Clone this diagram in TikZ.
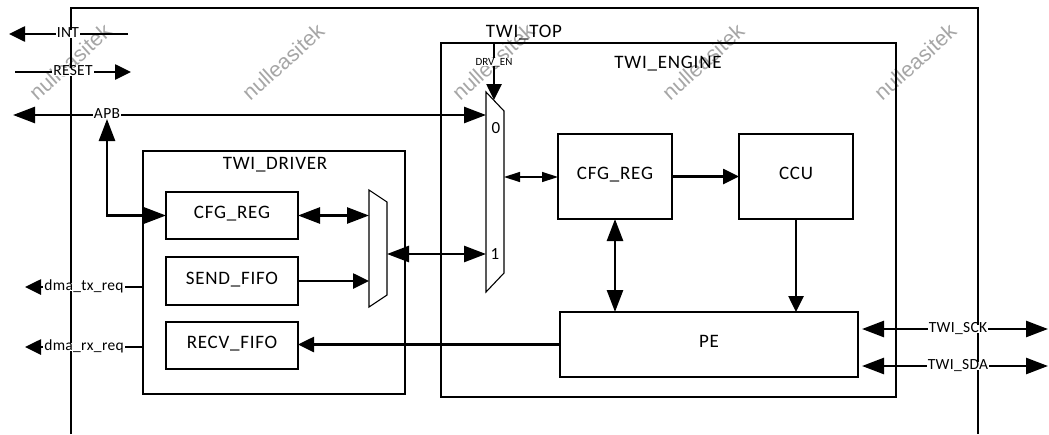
\documentclass[tikz,border=0pt]{standalone}
\usepackage{fontspec}
\setmainfont{Carlito}
\newfontfamily\wmfont{Liberation Sans}
\usetikzlibrary{arrows.meta}
\newcommand\blkfont{\fontsize{19}{22}\selectfont\addfontfeatures{LetterSpace=4}}
\newcommand\lblfont{\fontsize{15.5}{18}\selectfont\addfontfeatures{LetterSpace=2}}
\tikzset{
  box/.style={draw, line width=1.1pt, inner sep=0pt, outer sep=0pt, anchor=north west,
    font=\blkfont, text height=1.38ex, text depth=0pt},
  title/.style={font=\blkfont, anchor=base, inner sep=0pt},
  lbl/.style={fill=white, inner sep=1pt, font=\lblfont, text height=1.38ex, text depth=0pt},
  wm/.style={rotate=42, text=black!35, font=\wmfont\fontsize{21.5}{24}\selectfont},
  thk/.style={line width=2.6pt},
  thn/.style={line width=1.4pt},
  dbl/.style={arrows={Triangle[length=22pt,width=16pt]-Triangle[length=22pt,width=16pt]}},
  one/.style={arrows={-Triangle[length=16pt,width=15pt]}},
  dblthin/.style={arrows={Triangle[length=16pt,width=10pt]-Triangle[length=16pt,width=10pt]}},
}
\begin{document}
\begin{tikzpicture}[x=1pt,y=-1pt]
\useasboundingbox (0,0) rectangle (1049,434);
% watermarks
\node[wm] (wm1) at (70,62) {nulleasitek};
\node[wm] (wm2) at (283,62) {nulleasitek};
\node[wm] (wm3) at (493,62) {nulleasitek};
\node[wm] (wm4) at (703,62) {nulleasitek};
\node[wm] (wm5) at (915,62) {nulleasitek};
% outer TWI_TOP
\draw[line width=1.1pt] (71,434) |- (978,8) -- (978,434);
\node[title] (ttop) at (524,37) {TWI\_TOP};
% containers
\node[box, minimum width=455pt, minimum height=354pt] (eng) at (441,43) {};
\node[title] (teng) at (668,68) {TWI\_ENGINE};
\node[box, minimum width=262pt, minimum height=243pt] (drv) at (143,151) {};
\node[title] (tdrv) at (275,169) {TWI\_DRIVER};
% blocks
\node[box, minimum width=132pt, minimum height=47pt] (dcfg) at (166,192) {CFG\_REG};
\node[box, minimum width=132pt, minimum height=48pt] (dsend) at (166,257) {SEND\_FIFO};
\node[box, minimum width=132pt, minimum height=47pt] (drecv) at (166,322) {RECV\_FIFO};
\node[box, minimum width=114pt, minimum height=85pt] (ecfg) at (558,134) {CFG\_REG};
\node[box, minimum width=114pt, minimum height=85pt] (ccu) at (739,134) {CCU};
\node[box, minimum width=298pt, minimum height=65pt] (pe) at (560,312) {PE};
% muxes
\draw[line width=1.1pt] (369,190) -- (387,202) -- (387,295) -- (369,307) -- cycle;
\draw[line width=1.1pt] (486,92) -- (504,111) -- (504,273) -- (486,292) -- cycle;
\node[font=\fontsize{17}{20}\selectfont, inner sep=0pt, text height=1.38ex, text depth=0pt] (m0) at (496,130) {0};
\node[font=\fontsize{17}{20}\selectfont, inner sep=0pt, text height=1.38ex, text depth=0pt] (m1) at (495,256) {1};
\coordinate (dmA) at (369,216);
\coordinate (dmB) at (369,282);
\coordinate (dmO) at (387,254);
\coordinate (em0) at (486,115);
\coordinate (em1) at (486,254);
\coordinate (emO) at (504,177);
\coordinate (emS) at (494,100);
% external ports
\coordinate (intR) at (128,34);  \coordinate (intL) at (9,34);
\coordinate (rstL) at (15,72);   \coordinate (rstR) at (131,72);
\coordinate (apbL) at (13,115);  \coordinate (apbT) at (107,119);
\coordinate (drvenT) at (494,43);
\coordinate (txS) at (143,287);  \coordinate (txE) at (25,287);
\coordinate (rxS) at (143,347);  \coordinate (rxE) at (25,347);
\coordinate (sckL) at (862,329); \coordinate (sckR) at (1048,329);
\coordinate (sdaL) at (862,366); \coordinate (sdaR) at (1048,366);
% connectors
\draw[thk, one] (intR) -- (intL);
\draw[thk, one] (rstL) -- (rstR);
\draw[thk, dbl] (apbL) -- (em0);
\draw[thk, dbl] (dcfg.west) -| (apbT);
\draw[thk, one] (drvenT) -- (emS);
\draw[thk, dbl] (dcfg.east) -- (dcfg.east -| dmA);
\draw[thk, one] (dsend.east) -- (dsend.east -| dmB);
\draw[thk, dbl] (dmO) -- (em1);
\draw[thn, dblthin] (emO) -- (ecfg.west |- emO);
\draw[thk, one] (ecfg.east) -- (ccu.west);
\draw[thk, dbl] (ecfg.south) -- (ecfg.south |- pe.north);
\draw[thk, one] (ccu.south) -- (ccu.south |- pe.north);
\draw[thk, one] (pe.west) -- (pe.west -| drecv.east);
\draw[thk, one] (txS) -- (txE);
\draw[thk, one] (rxS) -- (rxE);
\draw[thk, dbl] (sckL) -- (sckR);
\draw[thk, dbl] (sdaL) -- (sdaR);
% line labels
\node[lbl] (lint) at (68,34) {INT};
\node[lbl] (lrst) at (73,72) {RESET};
\node[lbl] (lapb) at (107,115) {APB};
\node[lbl, font=\fontsize{11}{13}\selectfont] (ldrv) at (494,62) {DRV\_EN};
\node[lbl] (ltx) at (84,287) {dma\_tx\_req};
\node[lbl] (lrx) at (84,347) {dma\_rx\_req};
\node[lbl] (lsck) at (958,329) {TWI\_SCK};
\node[lbl] (lsda) at (958,366) {TWI\_SDA};
\end{tikzpicture}
\end{document}
